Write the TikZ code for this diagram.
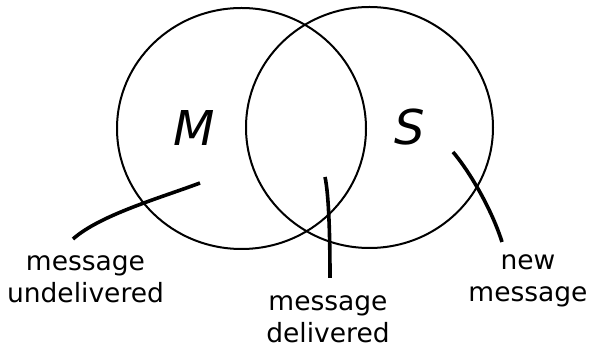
\documentclass[tikz,border=0pt]{standalone}
\usepackage{fontspec}
\setmainfont{DejaVu Sans}
\begin{document}
\begin{tikzpicture}[x=1pt,y=-1pt,
  setcircle/.style={draw=black,line width=2pt},
  leader/.style={draw=black,line width=3.6pt},
  setname/.style={font=\fontsize{48}{48}\selectfont\itshape,anchor=base,inner sep=0pt},
  lbl/.style={font=\fontsize{26.5}{32}\selectfont,align=center,anchor=base,inner sep=0pt}]
\useasboundingbox (0,0) rectangle (590,347);
\draw[setcircle] (241.5,128.5) ellipse [x radius=124.5pt, y radius=120.5pt];
\draw[setcircle] (369.5,127.5) ellipse [x radius=123.5pt, y radius=120.5pt];
\node[setname] (M) at (194,146) {M};
\node[setname] (S) at (410,145) {S};
\node[lbl] (und) at (85.5,303) {message\\undelivered};
\node[lbl] (del) at (328,343) {message\\delivered};
\node[lbl] (new) at (528,302) {new\\message};
\coordinate (u1) at (200,183);
\coordinate (u2) at (73,239);
\coordinate (d1) at (325,177);
\coordinate (d2) at (330,278);
\coordinate (n1) at (453,152);
\coordinate (n2) at (502,242);
\draw[leader] (u1) .. controls (160,198) and (100,215) .. (u2);
\draw[leader] (d1) .. controls (329,195) and (330,240) .. (d2);
\draw[leader] (n1) .. controls (470,172) and (492,210) .. (n2);
\end{tikzpicture}
\end{document}
